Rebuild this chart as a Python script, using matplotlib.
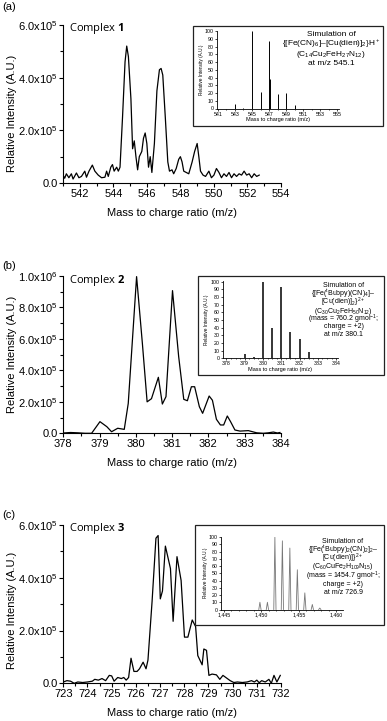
import matplotlib
matplotlib.use("Agg")
import matplotlib.pyplot as plt
from matplotlib.patches import Rectangle
from matplotlib.ticker import MultipleLocator

plt.rcParams["font.family"] = ["Liberation Sans", "DejaVu Sans"]
plt.rcParams["mathtext.fontset"] = "custom"
plt.rcParams["mathtext.rm"] = "Liberation Sans"
plt.rcParams["mathtext.it"] = "Liberation Sans:italic"
plt.rcParams["mathtext.bf"] = "Open Sans:bold"

W, H = 387, 721

# ---- measured spectra (intensity in units of 1e5) ----
mz_a = [541.0, 541.1, 541.2, 541.35, 541.5, 541.6, 541.8, 541.95, 542.1, 542.3,
        542.4, 542.55, 542.75, 542.9, 543.1, 543.3, 543.5, 543.6, 543.7, 543.85,
        543.95, 544.05, 544.2, 544.3, 544.4, 544.55, 544.7, 544.8, 544.9, 545.05,
        545.15, 545.25, 545.35, 545.45, 545.55, 545.7, 545.8, 545.9, 546.0, 546.1,
        546.2, 546.3, 546.45, 546.6, 546.75, 546.85, 546.95, 547.1, 547.25, 547.35,
        547.5, 547.6, 547.75, 547.9, 548.0, 548.1, 548.2, 548.35, 548.5, 548.7,
        548.85, 549.0, 549.1, 549.2, 549.35, 549.5, 549.7, 549.85, 550.0, 550.15,
        550.3, 550.45, 550.6, 550.75, 550.9, 551.05, 551.2, 551.35, 551.5, 551.65,
        551.8, 551.95, 552.1, 552.25, 552.4, 552.55, 552.7]
int_a = [0.30, 0.18, 0.35, 0.20, 0.35, 0.15, 0.38, 0.20, 0.25, 0.45,
         0.22, 0.45, 0.68, 0.45, 0.30, 0.20, 0.22, 0.45, 0.25, 0.60,
         0.70, 0.45, 0.60, 0.45, 0.60, 2.50, 4.60, 5.20, 4.80, 3.20,
         1.30, 1.60, 1.00, 0.50, 1.00, 1.20, 1.70, 1.90, 1.50, 0.60,
         1.00, 0.40, 1.50, 3.50, 4.30, 4.35, 4.10, 2.50, 0.80, 0.45,
         0.50, 0.35, 0.55, 0.90, 1.00, 0.80, 0.45, 0.40, 0.35, 0.80,
         1.20, 1.50, 1.00, 0.45, 0.30, 0.25, 0.45, 0.20, 0.30, 0.55,
         0.40, 0.20, 0.35, 0.25, 0.40, 0.20, 0.35, 0.25, 0.35, 0.30,
         0.45, 0.30, 0.35, 0.20, 0.35, 0.25, 0.30]

mz_b = [378.0, 378.2, 378.4, 378.6, 378.78, 379.01, 379.2, 379.33, 379.5, 379.68,
        379.79, 380.02, 380.18, 380.31, 380.43, 380.62, 380.73, 380.83, 381.01, 381.18,
        381.32, 381.42, 381.53, 381.62, 381.75, 381.84, 382.02, 382.11, 382.22, 382.33,
        382.42, 382.52, 382.61, 382.73, 382.87, 383.1, 383.33, 383.51, 383.65, 383.79,
        383.9, 383.97]
int_b = [0.02, 0.05, 0.03, 0.0, 0.0, 0.74, 0.42, 0.10, 0.32, 0.25,
         1.90, 9.96, 5.70, 2.00, 2.20, 3.56, 1.86, 2.33, 9.07, 4.87,
         2.16, 2.07, 2.96, 2.96, 1.69, 1.27, 2.37, 2.10, 0.89, 0.53,
         0.53, 1.10, 0.74, 0.21, 0.14, 0.17, 0.03, 0.0, 0.03, 0.08,
         0.02, 0.05]

mz_c = [723.0, 723.15, 723.3, 723.45, 723.6, 723.8, 724.0, 724.2, 724.3, 724.45,
        724.6, 724.75, 724.9, 725.0, 725.1, 725.25, 725.4, 725.5, 725.6, 725.7,
        725.8, 725.92, 726.05, 726.15, 726.3, 726.42, 726.5, 726.67, 726.83, 726.92,
        727.01, 727.1, 727.22, 727.43, 727.54, 727.7, 727.87, 728.01, 728.15, 728.33,
        728.47, 728.56, 728.74, 728.81, 728.92, 729.02, 729.15, 729.33, 729.47, 729.6,
        729.75, 729.9, 730.05, 730.2, 730.4, 730.6, 730.78, 730.9, 731.0, 731.1,
        731.2, 731.35, 731.5, 731.6, 731.71, 731.83, 731.97]
int_c = [0.05, 0.10, 0.08, 0.0, 0.05, 0.03, 0.05, 0.08, 0.15, 0.12,
         0.18, 0.10, 0.30, 0.28, 0.08, 0.22, 0.18, 0.22, 0.12, 0.22,
         0.95, 0.45, 0.45, 0.55, 0.80, 0.55, 0.88, 3.10, 5.50, 5.60,
         3.20, 3.50, 5.20, 4.35, 2.35, 4.80, 3.90, 1.75, 1.75, 2.40,
         2.15, 1.05, 0.70, 1.30, 1.25, 0.30, 0.35, 0.32, 0.15, 0.30,
         0.20, 0.10, 0.03, 0.05, 0.03, 0.05, 0.10, 0.05, 0.12, 0.02,
         0.10, 0.05, 0.15, 0.0, 0.30, 0.05, 0.30]

# ---- simulated isotope patterns (relative intensity) ----
sim_mz_a = [543, 544, 545, 546, 547, 547.1, 548, 549, 550]
sim_int_a = [6, 1, 100, 22, 88, 38, 19, 20, 5]
sim_mz_b = [379.0, 379.5, 380.0, 380.5, 381.0, 381.5, 382.0, 382.5, 383.0]
sim_int_b = [5, 2, 100, 40, 93, 35, 25, 8, 1]
sim_mz_c = [1449.8, 1450.8, 1451.8, 1452.8, 1453.8, 1454.8, 1455.8, 1456.8, 1457.8]
sim_int_c = [10, 10, 100, 95, 85, 55, 23, 7, 2]

ytick_a = [0, 2, 4, 6]
ytick_labels_a = ["0.0", "2.0x10$^5$", "4.0x10$^5$", "6.0x10$^5$"]
ytick_b = [0, 2, 4, 6, 8, 10]
ytick_labels_b = ["0.0", "2.0x10$^5$", "4.0x10$^5$", "6.0x10$^5$", "8.0x10$^5$", "1.0x10$^6$"]
ytick_c = [0, 2, 4, 6]
ytick_labels_c = ["0.0", "2.0x10$^5$", "4.0x10$^5$", "6.0x10$^5$"]
xtick_c_inset = [1445, 1450, 1455, 1460]
xtick_labels_c_inset = ["1,445", "1,450", "1,455", "1,460"]

text_a = ["Simulation of",
          "{[Fe(CN)$_6$]\u2013[Cu(dien)]$_2$}H$^+$",
          "(C$_{14}$Cu$_2$FeH$_{27}$N$_{12}$)",
          "at m/z 545.1"]
text_b = ["Simulation of",
          "{[Fe($^\\mathrm{t}$Bubpy)(CN)$_4$]\u2013",
          "[Cu(dien)]$_2$}$^{2+}$",
          "(C$_{30}$Cu$_2$FeH$_{50}$N$_{12}$)",
          "(mass = 760.2 gmol$^{-1}$;",
          "charge = +2)",
          "at m/z 380.1"]
text_c = ["Simulation of",
          "{[Fe($^\\mathrm{t}$Bubpy)$_2$(CN)$_2$]$_2$\u2013",
          "[Cu(dien)]}$^{2+}$",
          "(C$_{60}$CuFe$_2$H$_{109}$N$_{15}$)",
          "(mass = 1454.7 gmol$^{-1}$;",
          "charge = +2)",
          "at m/z 726.9"]


def axes_px(fig, left, top, right, bottom):
    return fig.add_axes([left / W, 1 - bottom / H, (right - left) / W, (bottom - top) / H])


def main_panel(fig, box, mz, inten, xlim, xminor, yticks, ylabels, tag, tag_y, number,
               ylabel_y=0.5):
    ax = axes_px(fig, *box)
    ax.plot(mz, inten, color="black", lw=0.9)
    ax.set_xlim(*xlim)
    ax.set_ylim(yticks[0], yticks[-1])
    ax.set_xticks(range(xlim[0] + (1 if xminor == 1 and xlim[0] % 2 else 0), xlim[1] + 1,
                        2 if xminor == 1 else 1))
    ax.xaxis.set_minor_locator(MultipleLocator(xminor))
    ax.set_yticks(yticks)
    ax.set_yticklabels(ylabels)
    ax.yaxis.set_minor_locator(MultipleLocator(1))
    for side in ("top", "right"):
        ax.spines[side].set_visible(False)
    for side in ("left", "bottom"):
        ax.spines[side].set_linewidth(0.8)
    ax.tick_params(which="both", direction="out", width=0.8, labelsize=8, pad=1)
    ax.tick_params(which="major", length=3)
    ax.tick_params(which="minor", length=2)
    ax.set_xlabel("Mass to charge ratio (m/z)", fontsize=8, va="center")
    ax.xaxis.set_label_coords(0.5, -30 / (box[3] - box[1]))
    ax.set_ylabel("Relative Intensity (A.U.)", fontsize=8, va="center")
    ax.yaxis.set_label_coords(-51 / (box[2] - box[0]), ylabel_y)
    fig.text(2 / W, 1 - tag_y / H, tag, fontsize=8, va="center")
    fig.text(69 / W, 1 - (box[1] + 4) / H, "Complex $\\mathbf{%d}$" % number,
             fontsize=8, va="center", family="Open Sans")
    return ax


def inset(fig, frame, box, xs, hs, xlim, xticks, xlabels, xminor, lines, line_y, text_x,
          text_size, xlabel=True, peak_width=None, color="black", lw=0.7):
    rect = Rectangle((frame[0] / W, 1 - frame[3] / H), (frame[2] - frame[0]) / W,
                     (frame[3] - frame[1]) / H, transform=fig.transFigure,
                     facecolor="white", edgecolor="#222222", lw=0.9, zorder=1)
    fig.add_artist(rect)
    ax = axes_px(fig, *box)
    ax.set_zorder(2)
    ax.patch.set_alpha(0)
    if peak_width is None:
        ax.vlines(xs, 0, hs, color=color, lw=lw)
    else:
        for x, h in zip(xs, hs):
            ax.plot([x - peak_width, x, x + peak_width], [0, h, 0], color=color, lw=lw)
    ax.set_xlim(*xlim)
    ax.set_ylim(0, 101)
    ax.set_xticks(xticks)
    if xlabels is not None:
        ax.set_xticklabels(xlabels)
    ax.xaxis.set_minor_locator(MultipleLocator(xminor))
    ax.set_yticks(range(0, 101, 10))
    for side in ("top", "right"):
        ax.spines[side].set_visible(False)
    for side in ("left", "bottom"):
        ax.spines[side].set_linewidth(0.6)
    ax.tick_params(which="both", direction="out", width=0.5, labelsize=3.8, pad=0.8)
    ax.tick_params(which="major", length=1.5)
    ax.tick_params(which="minor", length=1)
    ax.set_ylabel("Relative Intensity (A.U.)", fontsize=3.4, labelpad=0.8)
    if xlabel:
        ax.set_xlabel("Mass to charge ratio (m/z)", fontsize=4, labelpad=0.3)
    for s, y in zip(lines, line_y):
        fig.text(text_x / W, 1 - y / H, s, fontsize=text_size, ha="center", va="center",
                 zorder=3)
    return ax


fig = plt.figure(figsize=(W / 100, H / 100), dpi=100)

main_panel(fig, (63, 25, 281, 183), mz_a, int_a, (541, 554), 1,
           ytick_a, ytick_labels_a, "(a)", 7, 1, ylabel_y=0.44)
inset(fig, (193, 26, 383, 126), (217, 30.5, 339, 108.5), sim_mz_a, sim_int_a,
      (540.9, 555.2), list(range(541, 556, 2)), None, 1, text_a,
      [34.3, 44.3, 54, 63.3], 331, 6, lw=0.7)

main_panel(fig, (63.3, 276, 281, 433.3), mz_b, int_b, (378, 384), 0.5,
           ytick_b, ytick_labels_b, "(b)", 266, 2)
inset(fig, (198, 275.5, 384, 375), (222.7, 281, 338, 358.3), sim_mz_b, sim_int_b,
      (377.8, 384.1), list(range(378, 385)), None, 0.25, text_b,
      [285, 294, 302.5, 311.5, 319.5, 327, 334.5], 343.5, 5.0, lw=1.1)

main_panel(fig, (63.3, 525, 281, 683.3), mz_c, int_c, (723, 732), 0.5,
           ytick_c, ytick_labels_c, "(c)", 515, 3, ylabel_y=0.46)
inset(fig, (195, 524.5, 384, 625), (221, 536.5, 343, 609.5), sim_mz_c, sim_int_c,
      (1444.6, 1460.9), xtick_c_inset, xtick_labels_c_inset, 1, text_c,
      [541.7, 550, 558.5, 567, 576, 584.5, 593], 343, 5.0, xlabel=False,
      peak_width=0.15, color="#777777", lw=0.6)

fig.savefig("out.png", dpi=100)
